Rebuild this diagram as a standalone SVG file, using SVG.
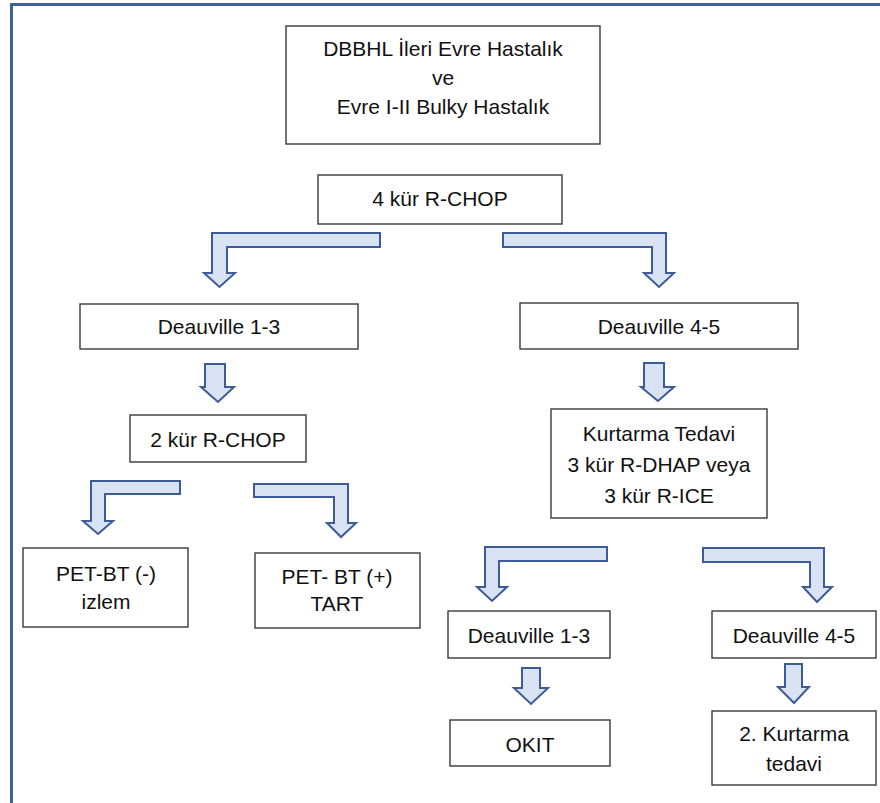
<svg xmlns="http://www.w3.org/2000/svg" width="880" height="803" viewBox="0 0 880 803">
<style>
.box{fill:#fff;stroke:#3a3a3a;stroke-width:1.4}
.t{font-family:"Liberation Sans",Arial,sans-serif;font-size:21px;fill:#111;text-anchor:middle}
.arr{fill:#dae3f3;stroke:#3b5c98;stroke-width:2;stroke-linejoin:miter}
</style>
<rect width="880" height="803" fill="#fff"/>
<rect x="11.5" y="4.5" width="900" height="900" fill="none" stroke="#3e609e" stroke-width="3"/>
<g id="n1"><rect class="box" x="286" y="26" width="314" height="118"/>
<text class="t" x="443" y="56">DBBHL İleri Evre Hastalık</text>
<text class="t" x="443" y="85">ve</text>
<text class="t" x="443" y="114">Evre I-II Bulky Hastalık</text></g>
<g id="n2"><rect class="box" x="318" y="175" width="244" height="49"/><text class="t" x="440" y="206">4 kür R-CHOP</text></g>
<g id="n3"><rect class="box" x="80" y="304" width="278" height="45"/><text class="t" x="219" y="334">Deauville 1-3</text></g>
<g id="n4"><rect class="box" x="520" y="303" width="278" height="46"/><text class="t" x="659" y="334">Deauville 4-5</text></g>
<g id="n5"><rect class="box" x="130" y="415" width="176" height="47"/><text class="t" x="218" y="447">2 kür R-CHOP</text></g>
<g id="n6"><rect class="box" x="551" y="409" width="216" height="109"/>
<text class="t" x="659" y="441">Kurtarma Tedavi</text>
<text class="t" x="659" y="472">3 kür R-DHAP veya</text>
<text class="t" x="659" y="503">3 kür R-ICE</text></g>
<g id="n7"><rect class="box" x="23" y="548" width="165" height="79"/>
<text class="t" x="106" y="581">PET-BT (-)</text>
<text class="t" x="106" y="609">izlem</text></g>
<g id="n8"><rect class="box" x="255" y="553" width="165" height="75"/>
<text class="t" x="337" y="584">PET- BT (+)</text>
<text class="t" x="337" y="611">TART</text></g>
<g id="n9"><rect class="box" x="448" y="611" width="162" height="47"/><text class="t" x="529" y="643">Deauville 1-3</text></g>
<g id="n10"><rect class="box" x="712" y="611" width="164" height="47"/><text class="t" x="794" y="643">Deauville 4-5</text></g>
<g id="n11"><rect class="box" x="450" y="720" width="160" height="46"/><text class="t" x="530" y="752">OKIT</text></g>
<g id="n12"><rect class="box" x="712" y="711" width="164" height="74"/>
<text class="t" x="794" y="741">2. Kurtarma</text>
<text class="t" x="794" y="771">tedavi</text></g>
<g id="connectors">
<path class="arr" d="M380,233 L212,233 L212,273 L204,273 L219.5,287 L235,273 L227,273 L227,247 L380,247 Z"/>
<path class="arr" d="M503,233 L666,233 L666,273 L674,273 L659,287 L644,273 L652,273 L652,247 L503,247 Z"/>
<path class="arr" d="M205,364 L225,364 L225,387 L234,387 L218,402 L201,387 L205,387 Z"/>
<path class="arr" d="M644,363 L664,363 L664,387 L674,387 L658,401 L641,387 L644,387 Z"/>
<path class="arr" d="M180,481 L91,481 L91,521 L83,521 L98,534 L113,521 L105,521 L105,494 L180,494 Z"/>
<path class="arr" d="M254,484 L348,484 L348,523 L356,523 L341,537 L327,523 L334,523 L334,497 L254,497 Z"/>
<path class="arr" d="M607,547 L485,547 L485,587 L477,587 L492,601 L507,587 L499,587 L499,561 L607,561 Z"/>
<path class="arr" d="M703,548 L824,548 L824,587 L832,587 L817,602 L803,587 L810,587 L810,562 L703,562 Z"/>
<path class="arr" d="M522,668 L540,668 L540,688 L548,688 L531,704 L514,688 L522,688 Z"/>
<path class="arr" d="M785,664 L802,664 L802,687 L809,687 L794,703 L778,687 L785,687 Z"/>
</g>
</svg>
